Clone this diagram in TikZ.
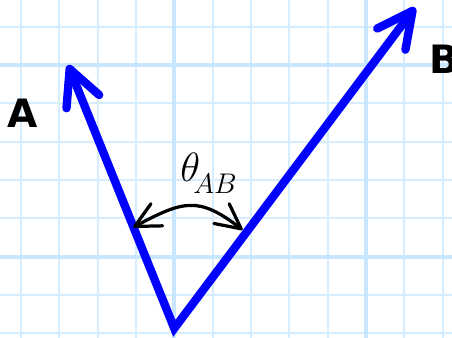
\documentclass[tikz,border=0pt]{standalone}
\usepackage{amsmath,amssymb}
\usepackage{fontspec}
\usepackage{tikz}
\usetikzlibrary{calc,arrows.meta}
\newfontfamily\labelfont{DejaVu Sans}
\definecolor{gridthin}{RGB}{214,236,255}
\definecolor{gridthick}{RGB}{200,230,255}
\definecolor{vecblue}{RGB}{0,0,255}

\begin{document}
\begin{tikzpicture}[scale=1,
    vec/.style={line width=6.2pt, draw=vecblue, line join=miter,
        >={Straight Barb[length=0.92cm,width=0.92cm,round]}},
    anglearc/.style={line width=2.4pt, draw=black,
        >={Straight Barb[length=0.65cm,width=0.65cm,round]}},
    veclabel/.style={inner sep=0pt, font=\labelfont\bfseries\fontsize{29}{29}\selectfont}]
    % Рамка малюнка
    \useasboundingbox (-4.547,-2.095) rectangle (7.245,6.697);
    \clip (-4.547,-2.095) rectangle (7.245,6.697);

    % Сітка
    \draw[gridthin, line width=1.4pt] (-5,-3) grid (8,7);
    \draw[gridthick, line width=3pt, step=5] (-5,-3) grid (8,7);

    % Спільний початок O та кінці векторів
    \coordinate (O) at (0,-1.87);
    \coordinate (A) at (-2.77,5.0);
    \coordinate (B) at (6.28,6.5);

    % Вектори A і B
    \draw[vec, <->] (A) -- (O) -- (B);

    % Кут між векторами
    \coordinate (L) at (-1.07,0.77);
    \coordinate (R) at (1.78,0.70);
    \draw[anglearc, <->] (L) .. controls (0.22,1.45) and (0.62,1.60) .. (R);

    % Підписи
    \node[veclabel] (labA) at (-3.95,3.74) {A};
    \node[veclabel, anchor=west] (labB) at (6.66,5.16) {B};
    \node[anchor=base west, inner sep=0pt, font=\Huge, scale=1.22]
        (theta) at (0.15,1.96) {$\theta_{\!\raisebox{-3.3pt}{$\scriptscriptstyle AB$}}$};
\end{tikzpicture}
\end{document}
